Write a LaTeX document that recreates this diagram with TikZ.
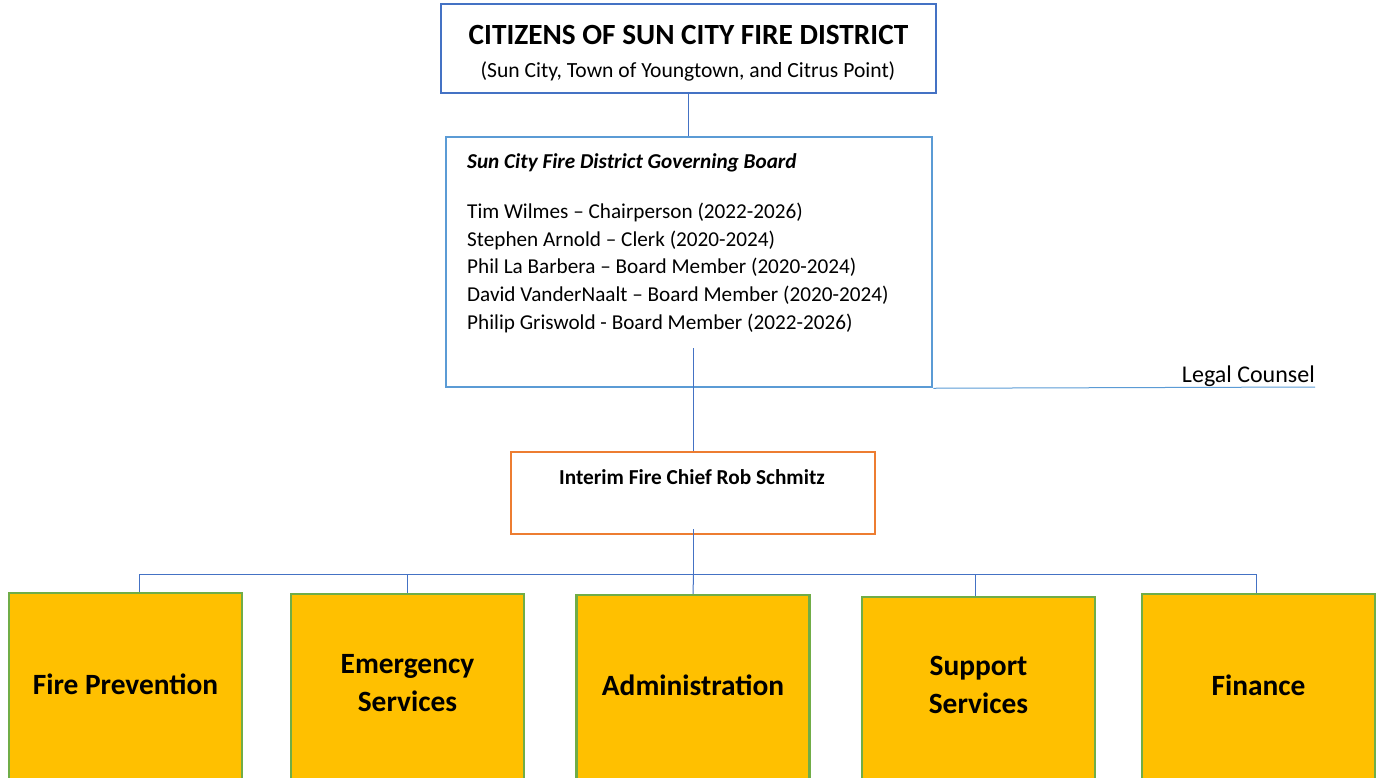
\documentclass[tikz,border=0pt]{standalone}
\usepackage{fontspec}
\setmainfont{Carlito}
\usepackage{tikz}
\usetikzlibrary{calc}

\definecolor{citblue}{HTML}{4472C4}
\definecolor{boardblue}{HTML}{5B9BD5}
\definecolor{chieforange}{HTML}{ED7D31}
\definecolor{deptfill}{HTML}{FFC000}
\definecolor{deptgreen}{HTML}{70AD47}

\begin{document}
\begin{tikzpicture}
[x=1pt,y=-1pt
,box/.style={rectangle,draw,line width=2.5pt,inner sep=0pt}
,citbox/.style={box,draw=citblue}
,boardbox/.style={box,draw=boardblue}
,chiefbox/.style={box,draw=chieforange}
,dept/.style={box,draw=deptgreen,fill=deptfill,minimum width=233pt,minimum height=200pt}
,dlabel/.style={inner sep=0pt,align=center,font=\fontsize{29.4}{38}\selectfont\bfseries}
,txt/.style={inner sep=0pt,font=\fontsize{21.2}{26}\selectfont}
,link/.style={draw=citblue,line width=1pt}]
\useasboundingbox (0,0) rectangle (1380,777);
% top boxes
\node[citbox,minimum width=495pt,minimum height=89pt] (citizens) at (688.5,48.5) {};
\node[boardbox,minimum width=486pt,minimum height=250pt] (board) at (689,262) {};
\node[chiefbox,minimum width=364pt,minimum height=82pt] (chief) at (693,493) {};
% texts
\node[txt,anchor=base,font=\fontsize{29.3}{34}\selectfont\bfseries] (cittitle) at (688.5,44) {CITIZENS OF SUN CITY FIRE DISTRICT};
\node[txt,anchor=base,font=\fontsize{21.6}{26}\selectfont] (citsub) at (688,77) {(Sun City, Town of Youngtown, and Citrus Point)};
\node[txt,anchor=base west,font=\fontsize{21.2}{26}\selectfont\bfseries\itshape] (boardtitle) at (467,168) {Sun City Fire District Governing Board};
\node[txt,anchor=base west] (m1) at (467,218.3) {Tim Wilmes -- Chairperson (2022-2026)};
\node[txt,anchor=base west] (m2) at (467,246) {Stephen Arnold -- Clerk (2020-2024)};
\node[txt,anchor=base west] (m3) at (467,273.7) {Phil La Barbera -- Board Member (2020-2024)};
\node[txt,anchor=base west] (m4) at (467,301.4) {David VanderNaalt -- Board Member (2020-2024)};
\node[txt,anchor=base west] (m5) at (467,329) {Philip Griswold - Board Member (2022-2026)};
\node[txt,anchor=base east,font=\fontsize{24}{28}\selectfont] (legal) at (1315,382) {Legal Counsel};
\node[txt,font=\fontsize{21.3}{25}\selectfont\bfseries] (chieftext) at (692,477) {Interim Fire Chief Rob Schmitz};
% departments
\node[dept] (d1) at (125.5,693) {};
\node[dept] (d2) at (407.5,694) {};
\node[dept] (d3) at (693,695) {};
\node[dept] (d4) at (978.5,697) {};
\node[dept] (d5) at (1258.5,694) {};
\node[dlabel] (l1) at (125.5,684) {Fire Prevention};
\node[dlabel] (l2) at (407.5,683) {Emergency\\Services};
\node[dlabel] (l3) at (693,685) {Administration};
\node[dlabel] (l4) at (978.5,685) {Support\\Services};
\node[dlabel] (l5) at (1258.5,685) {Finance};
% connectors
\coordinate (bstem) at (693.5,348);
\coordinate (cstem) at (693.5,529);
\coordinate (bus) at (693.5,574.5);
\coordinate (legalend) at (1315,387);
\draw[link] (citizens.south) -- (citizens.south |- board.north);
\draw[link] (bstem) -- (bstem |- chief.north);
\draw[link,draw=boardblue] (board.south east) -- (legalend);
\draw[link] (cstem) -- (bus);
\draw[link] ([xshift=13.5pt]d1.north) |- (bus) -| ([xshift=-2.5pt]d5.north);
\draw[link] (bus) -- (d3.north);
\draw[link] (d2.north) -- (d2.north |- bus);
\draw[link] ([xshift=-3.5pt]d4.north) -- ([xshift=-3.5pt]d4.north |- bus);
\end{tikzpicture}
\end{document}
